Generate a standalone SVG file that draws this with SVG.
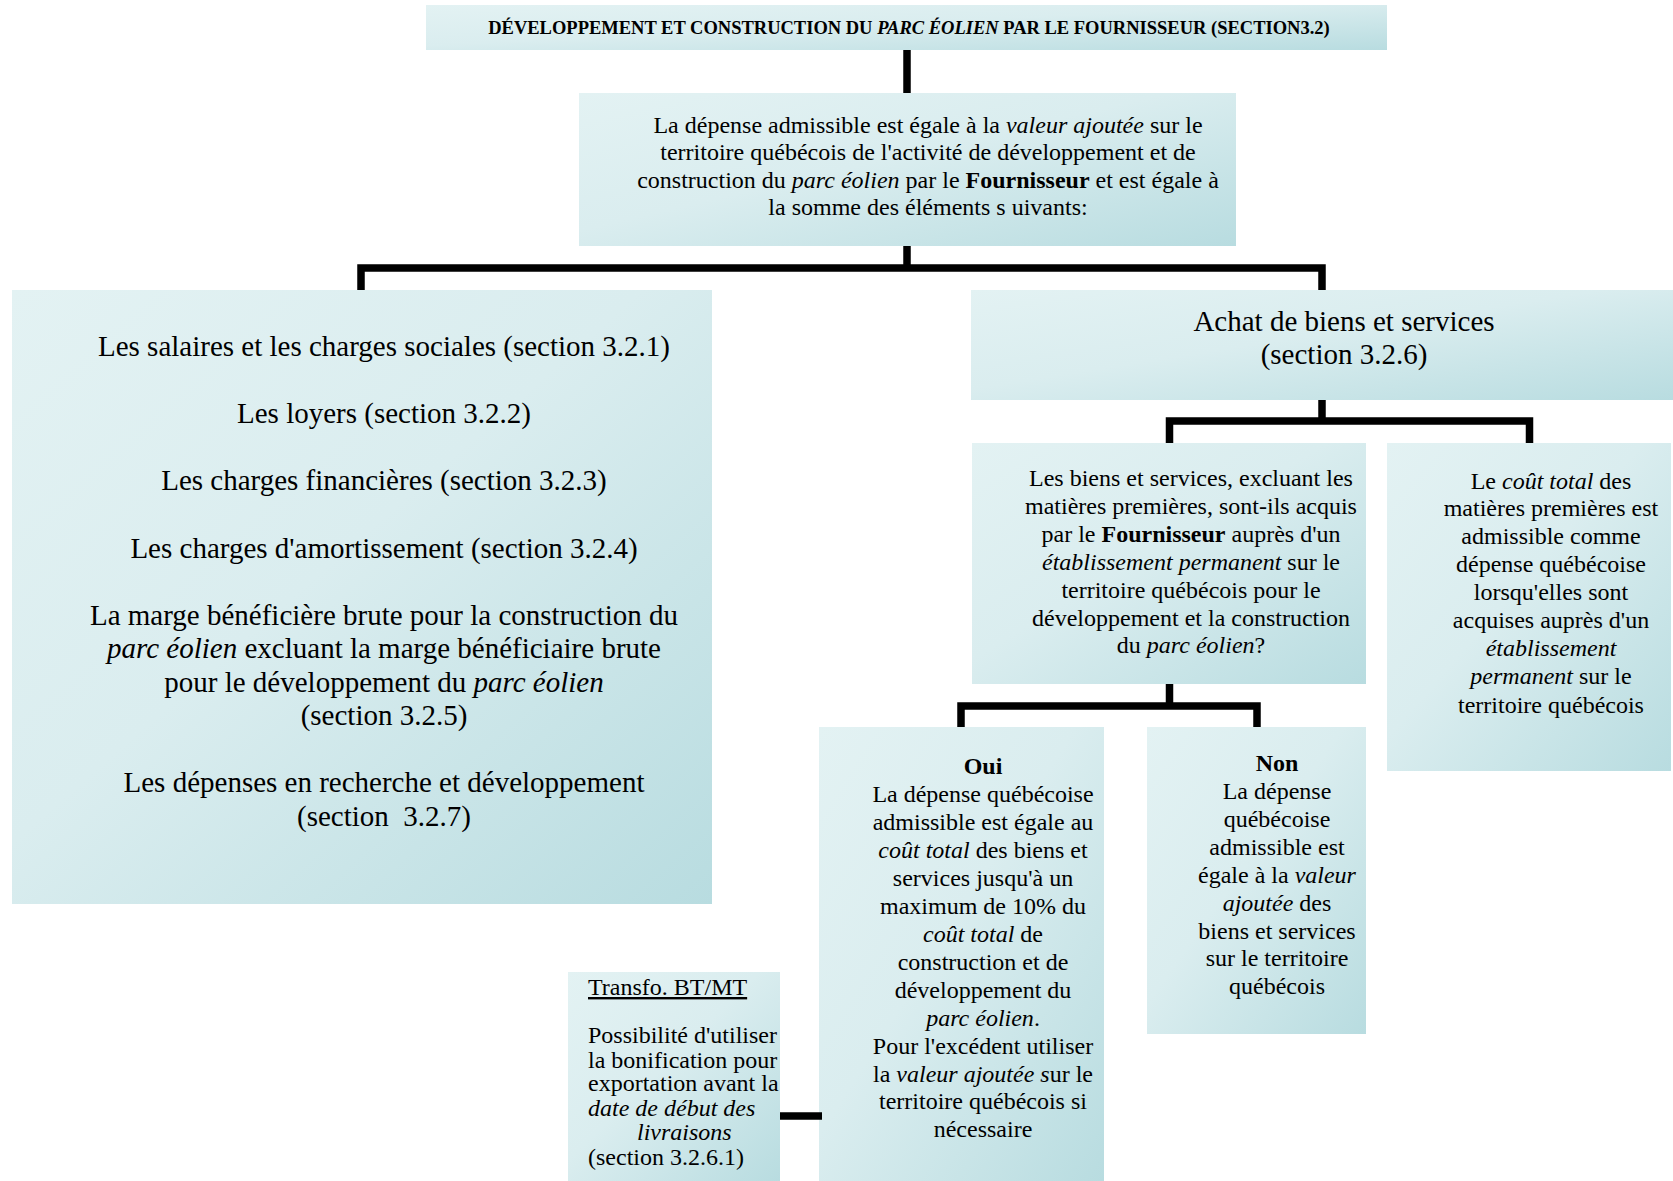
<svg xmlns="http://www.w3.org/2000/svg" width="1673" height="1181" viewBox="0 0 1673 1181">
<defs>
<linearGradient id="g" x1="0" y1="0" x2="1" y2="1">
<stop offset="0" stop-color="#e3f2f3"/>
<stop offset="0.45" stop-color="#daedef"/>
<stop offset="1" stop-color="#b8dce0"/>
</linearGradient>
</defs>
<style>
.box{fill:url(#g);stroke:none}
text{font-family:"Liberation Serif","Times New Roman",serif;fill:#000}
.c{text-anchor:middle}
.t24{font-size:24px}
.t29{font-size:29px}
.i{font-style:italic}
.b{font-weight:bold}
.conn{fill:none;stroke:#000;stroke-width:7.5;stroke-linecap:butt;stroke-linejoin:miter}
</style>
<rect width="1673" height="1181" fill="#fff"/>

<g id="title">
<rect class="box" x="426" y="5" width="961" height="45"/>
<text class="c b" x="909" y="34" font-size="18.5">DÉVELOPPEMENT ET CONSTRUCTION DU <tspan class="i">PARC ÉOLIEN</tspan> PAR LE FOURNISSEUR (SECTION3.2)</text>
</g>

<g id="depense">
<rect class="box" x="579" y="93" width="657" height="153"/>
<text class="c t24" x="928" y="132.5">La dépense admissible est égale à la <tspan class="i">valeur ajoutée</tspan> sur le</text>
<text class="c t24" x="928" y="160">territoire québécois de l'activité de développement et de</text>
<text class="c t24" x="928" y="187.5">construction du <tspan class="i">parc éolien</tspan> par le <tspan class="b">Fournisseur</tspan> et est égale à</text>
<text class="c t24" x="928" y="215">la somme des éléments s uivants:</text>
</g>

<g id="elements">
<rect class="box" x="12" y="290" width="700" height="614"/>
<text class="c t29" x="384" y="356">Les salaires et les charges sociales (section 3.2.1)</text>
<text class="c t29" x="384" y="423">Les loyers (section 3.2.2)</text>
<text class="c t29" x="384" y="490">Les charges financières (section 3.2.3)</text>
<text class="c t29" x="384" y="557.5">Les charges d'amortissement (section 3.2.4)</text>
<text class="c t29" x="384" y="624.5">La marge bénéficière brute pour la construction du</text>
<text class="c t29" x="384" y="658"><tspan class="i">parc éolien</tspan> excluant la marge bénéficiaire brute</text>
<text class="c t29" x="384" y="691.5">pour le développement du <tspan class="i">parc éolien</tspan></text>
<text class="c t29" x="384" y="725">(section 3.2.5)</text>
<text class="c t29" x="384" y="792">Les dépenses en recherche et développement</text>
<text class="c t29" x="384" y="825.5" xml:space="preserve">(section  3.2.7)</text>
</g>

<g id="achat">
<rect class="box" x="971" y="290" width="702" height="110"/>
<text class="c t29" x="1344" y="331">Achat de biens et services</text>
<text class="c t29" x="1344" y="364">(section 3.2.6)</text>
</g>

<g id="biens">
<rect class="box" x="972" y="443" width="394" height="241"/>
<text class="c t24" x="1191" y="486">Les biens et services, excluant les</text>
<text class="c t24" x="1191" y="513.9">matières premières, sont-ils acquis</text>
<text class="c t24" x="1191" y="541.8">par le <tspan class="b">Fournisseur</tspan> auprès d'un</text>
<text class="c t24" x="1191" y="569.7"><tspan class="i">établissement permanent</tspan> sur le</text>
<text class="c t24" x="1191" y="597.6">territoire québécois pour le</text>
<text class="c t24" x="1191" y="625.5">développement et la construction</text>
<text class="c t24" x="1191" y="653.4">du <tspan class="i">parc éolien</tspan>?</text>
</g>

<g id="matieres">
<rect class="box" x="1387" y="443" width="284" height="328"/>
<text class="c t24" x="1551" y="488.6">Le <tspan class="i">coût total</tspan> des</text>
<text class="c t24" x="1551" y="516.4">matières premières est</text>
<text class="c t24" x="1551" y="544.2">admissible comme</text>
<text class="c t24" x="1551" y="572">dépense québécoise</text>
<text class="c t24" x="1551" y="599.8">lorsqu'elles sont</text>
<text class="c t24" x="1551" y="627.6">acquises auprès d'un</text>
<text class="c t24 i" x="1551" y="656">établissement</text>
<text class="c t24" x="1551" y="683.8"><tspan class="i">permanent</tspan> sur le</text>
<text class="c t24" x="1551" y="712.6">territoire québécois</text>
</g>

<g id="oui">
<rect class="box" x="819" y="727" width="285" height="454"/>
<text class="c t24 b" x="983" y="774">Oui</text>
<text class="c t24" x="983" y="802">La dépense québécoise</text>
<text class="c t24" x="983" y="830">admissible est égale au</text>
<text class="c t24" x="983" y="858"><tspan class="i">coût total</tspan> des biens et</text>
<text class="c t24" x="983" y="885.5">services jusqu'à un</text>
<text class="c t24" x="983" y="913.5">maximum de 10% du</text>
<text class="c t24" x="983" y="941.5"><tspan class="i">coût total</tspan> de</text>
<text class="c t24" x="983" y="969.5">construction et de</text>
<text class="c t24" x="983" y="997.5">développement du</text>
<text class="c t24" x="983" y="1025.5"><tspan class="i">parc éolien</tspan>.</text>
<text class="c t24" x="983" y="1053.5">Pour l'excédent utiliser</text>
<text class="c t24" x="983" y="1081.5">la <tspan class="i">valeur ajoutée s</tspan>ur le</text>
<text class="c t24" x="983" y="1109">territoire québécois si</text>
<text class="c t24" x="983" y="1137">nécessaire</text>
</g>

<g id="non">
<rect class="box" x="1147" y="727" width="219" height="307"/>
<text class="c t24 b" x="1277" y="771">Non</text>
<text class="c t24" x="1277" y="799">La dépense</text>
<text class="c t24" x="1277" y="827">québécoise</text>
<text class="c t24" x="1277" y="854.5">admissible est</text>
<text class="c t24" x="1277" y="882.5">égale à la <tspan class="i">valeur</tspan></text>
<text class="c t24" x="1277" y="910.5"><tspan class="i">ajoutée</tspan> des</text>
<text class="c t24" x="1277" y="938.5">biens et services</text>
<text class="c t24" x="1277" y="966">sur le territoire</text>
<text class="c t24" x="1277" y="994">québécois</text>
</g>

<g id="transfo">
<rect class="box" x="568" y="972" width="212" height="209"/>
<text class="t24" x="588" y="995" text-decoration="underline">Transfo. BT/MT</text>
<text class="t24" x="588" y="1043">Possibilité d'utiliser</text>
<text class="t24" x="588" y="1067.5">la bonification pour</text>
<text class="t24" x="588" y="1091">exportation avant la</text>
<text class="t24 i" x="588" y="1115.5">date de début des</text>
<text class="t24 i" x="637" y="1140">livraisons</text>
<text class="t24" x="588" y="1164.5">(section 3.2.6.1)</text>
</g>

<g id="connectors">
<path class="conn" d="M907 50 V93"/>
<path class="conn" d="M907 246 V268"/>
<path class="conn" d="M361 290 V268 H1322 V290"/>
<path class="conn" d="M1322 400 V421"/>
<path class="conn" d="M1169.5 443 V421 H1529.5 V443"/>
<path class="conn" d="M1169.5 684 V706"/>
<path class="conn" d="M961 727 V706 H1257 V727"/>
<path class="conn" d="M780 1116 H822"/>
</g>
</svg>
